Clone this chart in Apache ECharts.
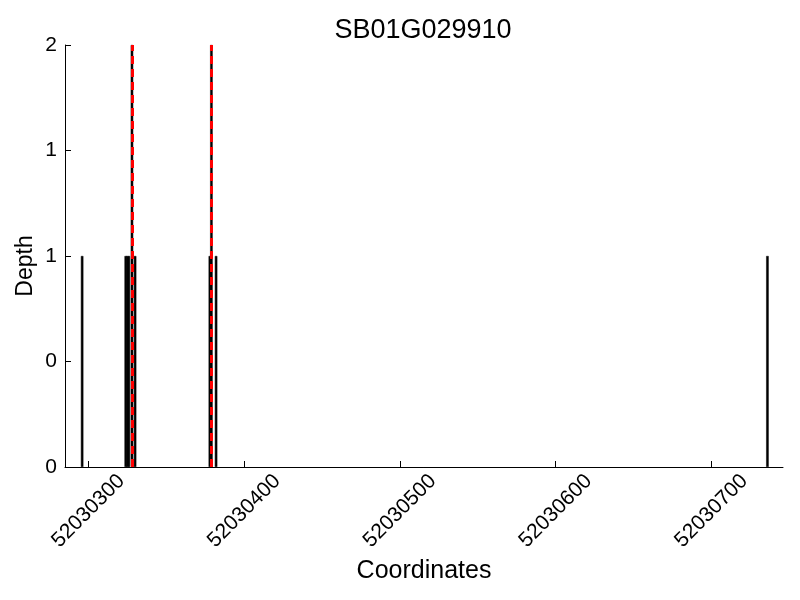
<!DOCTYPE html>
<html>
<head>
<meta charset="utf-8">
<script src="https://cdn.jsdelivr.net/npm/echarts@6/dist/echarts.min.js"></script>
<style>html,body{margin:0;padding:0;background:#fff}#c{width:800px;height:600px}</style>
</head>
<body>
<div id="c"></div>
<script>
const positions = [52030296, 52030324, 52030325, 52030326, 52030328, 52030330, 52030378, 52030379, 52030382, 52030736];
const depths = [1, 1, 1, 1, 2, 1, 1, 2, 1, 1];
const markers = [52030328, 52030379];
const xTicks = [52030300, 52030400, 52030500, 52030600, 52030700];
const yTicks = [0, 0.5, 1, 1.5, 2];

const font = 'Liberation Sans';
const chart = echarts.init(document.getElementById('c'));
chart.setOption({
  animation: false,
  textStyle: { fontFamily: font },
  title: {
    text: 'SB01G029910', left: 418, top: 12, textAlign: 'center',
    textStyle: { fontFamily: font, fontSize: 27, fontWeight: 'normal', color: '#000' }
  },
  graphic: [{
    type: 'text', x: 26, y: 266, rotation: Math.PI / 2,
    style: { text: 'Depth', fontFamily: font, fontSize: 23, fill: '#000', align: 'center', verticalAlign: 'middle' }
  }],
  grid: { left: 65, right: 17, top: 45, bottom: 133, outerBoundsMode: 'none', containLabel: false },
  xAxis: {
    type: 'value', min: 52030285, max: 52030746,
    name: 'Coordinates', nameLocation: 'middle', nameGap: 90,
    nameTextStyle: { fontFamily: font, fontSize: 25, color: '#000' },
    splitLine: { show: false },
    axisLine: { show: true, lineStyle: { color: '#000', width: 1 } },
    axisTick: { show: true, inside: true, length: 6, customValues: xTicks, lineStyle: { color: '#000' } },
    axisLabel: { customValues: xTicks, rotate: 45, align: 'center', verticalAlign: 'middle',
      fontFamily: font, fontSize: 21, color: '#000', margin: 44,
      formatter: v => String(v) }
  },
  yAxis: {
    type: 'value', min: 0, max: 2, interval: 0.5,
    splitLine: { show: false },
    axisLine: { show: true, lineStyle: { color: '#000', width: 1 } },
    axisTick: { show: true, inside: true, length: 6, lineStyle: { color: '#000' } },
    axisLabel: { fontFamily: font, fontSize: 21, color: '#000', margin: 8,
      formatter: v => String(Math.floor(v)) }
  },
  series: [{
    type: 'bar',
    data: positions.map((p, i) => [p, depths[i]]),
    barWidth: 2.5,
    itemStyle: { color: '#000', borderColor: '#000', borderWidth: 0.5 },
    markLine: {
      symbol: 'none', silent: true,
      label: { show: false },
      lineStyle: { color: '#ff0000', width: 3, type: [8, 5] },
      data: markers.map(m => ({ xAxis: m }))
    }
  }]
});
</script>
</body>
</html>
